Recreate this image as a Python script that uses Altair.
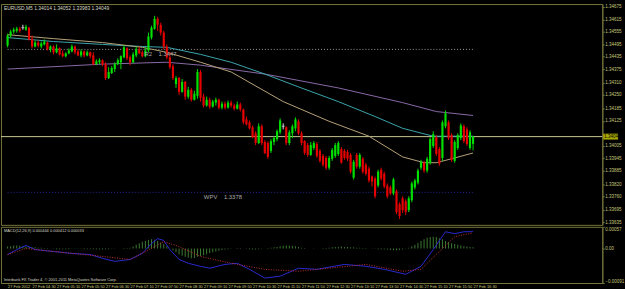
import altair as alt
import pandas as pd

# ---------------- data ----------------
opens = [1.34489, 1.34537, 1.34556, 1.34560, 1.34570, 1.34575, 1.34565, 1.34575, 1.34522, 1.34484,
         1.34503, 1.34484, 1.34494, 1.34503, 1.34470, 1.34484, 1.34456, 1.34475, 1.34451, 1.34437,
         1.34451, 1.34460, 1.34484, 1.34460, 1.34441, 1.34460, 1.34441, 1.34456, 1.34441, 1.34399,
         1.34408, 1.34418, 1.34399, 1.34332, 1.34356, 1.34375, 1.34399, 1.34408, 1.34432, 1.34475,
         1.34432, 1.34408, 1.34441, 1.34470, 1.34456, 1.34437, 1.34465, 1.34527, 1.34570, 1.34618,
         1.34589, 1.34551, 1.34484, 1.34432, 1.34389, 1.34303, 1.34332, 1.34265, 1.34313, 1.34242,
         1.34275, 1.34227, 1.34246, 1.34361, 1.34242, 1.34199, 1.34227, 1.34194, 1.34213, 1.34227,
         1.34189, 1.34208, 1.34189, 1.34213, 1.34199, 1.34184, 1.34204, 1.34180, 1.34132, 1.34118,
         1.34094, 1.34065, 1.34018, 1.34099, 1.34023, 1.34018, 1.33980, 1.34023, 1.34037, 1.34070,
         1.34099, 1.34094, 1.34018, 1.34065, 1.34089, 1.34123, 1.34065, 1.34027, 1.34008, 1.33961,
         1.33994, 1.34013, 1.33980, 1.33956, 1.33946, 1.33899, 1.33942, 1.33956, 1.33965, 1.33989,
         1.33980, 1.33975, 1.33961, 1.33851, 1.33961, 1.33904, 1.33942, 1.33913, 1.33894, 1.33856,
         1.33846, 1.33813, 1.33889, 1.33870, 1.33813, 1.33804, 1.33775, 1.33785, 1.33723, 1.33751,
         1.33737, 1.33694, 1.33742, 1.33804, 1.33827, 1.33899, 1.33923, 1.33885, 1.33923, 1.34004,
         1.34046, 1.33989, 1.33946, 1.34099, 1.34118, 1.34056, 1.33932, 1.33994, 1.34042, 1.34099,
         1.34084, 1.33994, 1.34014]
highs = [1.34546, 1.34565, 1.34575, 1.34579, 1.34579, 1.34589, 1.34589, 1.34579, 1.34537, 1.34513,
         1.34513, 1.34508, 1.34518, 1.34508, 1.34489, 1.34489, 1.34494, 1.34480, 1.34465, 1.34456,
         1.34475, 1.34494, 1.34489, 1.34470, 1.34470, 1.34465, 1.34465, 1.34460, 1.34456, 1.34422,
         1.34427, 1.34422, 1.34408, 1.34384, 1.34389, 1.34408, 1.34427, 1.34441, 1.34489, 1.34480,
         1.34441, 1.34456, 1.34484, 1.34484, 1.34465, 1.34480, 1.34551, 1.34584, 1.34632, 1.34627,
         1.34599, 1.34560, 1.34494, 1.34456, 1.34399, 1.34341, 1.34337, 1.34327, 1.34318, 1.34289,
         1.34284, 1.34270, 1.34375, 1.34370, 1.34256, 1.34242, 1.34237, 1.34227, 1.34237, 1.34232,
         1.34218, 1.34218, 1.34223, 1.34223, 1.34208, 1.34218, 1.34213, 1.34184, 1.34146, 1.34127,
         1.34103, 1.34075, 1.34113, 1.34108, 1.34032, 1.34027, 1.34037, 1.34051, 1.34084, 1.34137,
         1.34113, 1.34099, 1.34080, 1.34108, 1.34142, 1.34132, 1.34075, 1.34032, 1.34018, 1.34023,
         1.34027, 1.34023, 1.33989, 1.33965, 1.33956, 1.33956, 1.33994, 1.34018, 1.34027, 1.33999,
         1.33989, 1.33985, 1.33970, 1.33937, 1.33970, 1.33970, 1.33951, 1.33923, 1.33904, 1.33861,
         1.33856, 1.33889, 1.33899, 1.33880, 1.33823, 1.33813, 1.33851, 1.33794, 1.33732, 1.33761,
         1.33746, 1.33761, 1.33832, 1.33846, 1.33894, 1.33937, 1.33932, 1.33951, 1.34046, 1.34075,
         1.34056, 1.33999, 1.34127, 1.34175, 1.34127, 1.34065, 1.34032, 1.34065, 1.34113, 1.34108,
         1.34094, 1.34080, 1.34052]
lows = [1.34480, 1.34527, 1.34546, 1.34551, 1.34551, 1.34565, 1.34560, 1.34513, 1.34475, 1.34480,
        1.34480, 1.34475, 1.34489, 1.34465, 1.34456, 1.34446, 1.34451, 1.34441, 1.34432, 1.34432,
        1.34446, 1.34456, 1.34446, 1.34437, 1.34432, 1.34432, 1.34437, 1.34427, 1.34394, 1.34394,
        1.34399, 1.34389, 1.34322, 1.34327, 1.34351, 1.34361, 1.34394, 1.34375, 1.34427, 1.34418,
        1.34394, 1.34403, 1.34432, 1.34446, 1.34432, 1.34432, 1.34456, 1.34518, 1.34565, 1.34560,
        1.34537, 1.34470, 1.34422, 1.34375, 1.34322, 1.34284, 1.34251, 1.34261, 1.34227, 1.34232,
        1.34218, 1.34223, 1.34232, 1.34218, 1.34189, 1.34194, 1.34184, 1.34189, 1.34199, 1.34180,
        1.34180, 1.34180, 1.34184, 1.34189, 1.34175, 1.34180, 1.34170, 1.34108, 1.34103, 1.34084,
        1.34042, 1.34008, 1.34013, 1.34008, 1.33965, 1.33942, 1.33970, 1.34008, 1.34027, 1.34061,
        1.34084, 1.34008, 1.34008, 1.34042, 1.34075, 1.34056, 1.34008, 1.33961, 1.33951, 1.33956,
        1.33985, 1.33946, 1.33923, 1.33904, 1.33889, 1.33889, 1.33932, 1.33946, 1.33956, 1.33918,
        1.33937, 1.33932, 1.33870, 1.33842, 1.33894, 1.33894, 1.33870, 1.33861, 1.33827, 1.33808,
        1.33751, 1.33804, 1.33837, 1.33799, 1.33751, 1.33766, 1.33766, 1.33675, 1.33651, 1.33680,
        1.33670, 1.33685, 1.33732, 1.33794, 1.33818, 1.33889, 1.33875, 1.33875, 1.33913, 1.33994,
        1.33956, 1.33908, 1.33932, 1.34089, 1.34032, 1.33927, 1.33923, 1.33985, 1.34032, 1.34018,
        1.34004, 1.33985, 1.33983]
closes = [1.34537, 1.34556, 1.34565, 1.34570, 1.34560, 1.34575, 1.34579, 1.34518, 1.34484, 1.34503,
          1.34489, 1.34499, 1.34508, 1.34470, 1.34484, 1.34456, 1.34475, 1.34446, 1.34437, 1.34451,
          1.34465, 1.34484, 1.34456, 1.34441, 1.34460, 1.34441, 1.34456, 1.34437, 1.34399, 1.34413,
          1.34418, 1.34399, 1.34332, 1.34361, 1.34380, 1.34399, 1.34418, 1.34437, 1.34480, 1.34427,
          1.34408, 1.34446, 1.34470, 1.34451, 1.34437, 1.34465, 1.34532, 1.34575, 1.34618, 1.34589,
          1.34551, 1.34484, 1.34432, 1.34384, 1.34332, 1.34332, 1.34265, 1.34313, 1.34242, 1.34275,
          1.34227, 1.34256, 1.34361, 1.34237, 1.34199, 1.34227, 1.34194, 1.34218, 1.34227, 1.34189,
          1.34208, 1.34189, 1.34213, 1.34199, 1.34184, 1.34204, 1.34180, 1.34118, 1.34108, 1.34089,
          1.34046, 1.34018, 1.34099, 1.34018, 1.33970, 1.33951, 1.34027, 1.34042, 1.34075, 1.34127,
          1.34099, 1.34018, 1.34070, 1.34099, 1.34132, 1.34065, 1.34018, 1.33970, 1.33961, 1.34008,
          1.34018, 1.33956, 1.33932, 1.33913, 1.33899, 1.33946, 1.33985, 1.34008, 1.34018, 1.33923,
          1.33946, 1.33942, 1.33880, 1.33927, 1.33904, 1.33961, 1.33880, 1.33870, 1.33837, 1.33832,
          1.33761, 1.33880, 1.33846, 1.33808, 1.33761, 1.33775, 1.33842, 1.33685, 1.33666, 1.33694,
          1.33685, 1.33751, 1.33823, 1.33837, 1.33885, 1.33927, 1.33885, 1.33942, 1.34037, 1.34061,
          1.33965, 1.33918, 1.34118, 1.34161, 1.34042, 1.33937, 1.34023, 1.34056, 1.34103, 1.34027,
          1.34013, 1.34070, 1.34049]

time_labels = ["27 Feb 2012", "27 Feb 04:30", "27 Feb 05:10", "27 Feb 05:50", "27 Feb 06:30",
               "27 Feb 07:10", "27 Feb 07:50", "27 Feb 08:30", "27 Feb 09:10", "27 Feb 09:50",
               "27 Feb 10:30", "27 Feb 11:10", "27 Feb 11:50", "27 Feb 12:30", "27 Feb 13:10",
               "27 Feb 13:50", "27 Feb 14:30", "27 Feb 15:10", "27 Feb 15:50", "27 Feb 16:30"]
price_ticks = [1.34675, 1.34615, 1.34555, 1.34495, 1.34435, 1.34375, 1.34310, 1.34250, 1.34185,
               1.34125, 1.34005, 1.33945, 1.33885, 1.33820, 1.33760, 1.33695, 1.33635]

ma_teal_i = [0, 15, 31, 44, 52, 63, 73, 84, 95, 108, 120, 129, 139, 152]
ma_teal_v = [1.34527, 1.34508, 1.34494, 1.34484, 1.34480, 1.34446, 1.34408, 1.34351, 1.34289,
             1.34218, 1.34146, 1.34089, 1.34051, 1.34051]
ma_tan_i = [0, 15, 31, 44, 52, 63, 73, 90, 105, 118, 129, 136, 140, 145, 152]
ma_tan_v = [1.34541, 1.34522, 1.34503, 1.34480, 1.34456, 1.34408, 1.34361, 1.34218, 1.34123,
            1.34051, 1.33951, 1.33923, 1.33923, 1.33942, 1.33970]
ma_purple_i = [0, 31, 52, 63, 84, 108, 129, 140, 152]
ma_purple_v = [1.34375, 1.34399, 1.34408, 1.34394, 1.34351, 1.34284, 1.34213, 1.34170, 1.34151]

r2_level = 1.3447
wpv_level = 1.3378
bid = 1.34049

macd_i = [0, 3, 6, 9, 15, 21, 27, 31, 35, 40, 44, 47, 49, 51, 53, 56, 59, 63, 66, 71, 75, 79, 84,
          89, 95, 101, 110, 117, 123, 130, 135, 139, 143, 146, 149, 152]
macd_v = [-0.00016, -0.00003, 0.00008, -0.00003, -0.00008, -0.00013, -0.00016, -0.00026, -0.00034,
          -0.00029, -0.00013, 0.00013, 0.00026, 0.00021, -0.00003, -0.00029, -0.00039, -0.00047,
          -0.00052, -0.00042, -0.00039, -0.00055, -0.00078, -0.00073, -0.00052, -0.00055, -0.00042,
          -0.00047, -0.00055, -0.00068, -0.00047, -0.00003, 0.00044, 0.00039, 0.00044, 0.000444]
sig_i = [0, 6, 15, 31, 40, 45, 51, 56, 63, 73, 84, 95, 117, 129, 135, 142, 146, 152]
sig_v = [-0.00016, 0.0, -0.00008, -0.00021, -0.00029, -0.00008, 0.00018, 0.00005, -0.00021,
         -0.00039, -0.00055, -0.0006, -0.00042, -0.0006, -0.00055, 0.0, 0.00031, 0.000412]
hist_v = [0.00005, 0.00006, 0.00008, 0.00008, 0.00007, 0.00006, 0.00005, 0.00004, 0.00003, 0.00003,
          0.00002, 0.00002, 0.00001, 0.00001, 0.0, -0.00001, -0.00002, -0.00002, -0.00002, -0.00002,
          -0.00002, -0.00001, -0.00001, -0.00001, -0.00001, -0.00002, -0.00002, -0.00002, -0.00002, -0.00003,
          -0.00003, -0.00003, -0.00002, -0.00002, -0.00001, -0.00001, 0.0, 0.0, 0.00001, 0.00001,
          0.00002, 0.00005, 0.0001, 0.00014, 0.00018, 0.0002, 0.00022, 0.00024, 0.00023, 0.0002,
          0.00016, 0.00011, 0.00006, 0.0, -0.00005, -0.0001, -0.00015, -0.00019, -0.00022, -0.00024,
          -0.00026, -0.00025, -0.00022, -0.0002, -0.00018, -0.00015, -0.00012, -0.0001, -0.00008, -0.00006,
          -0.00004, -0.00003, -0.00002, -0.00001, 0.0, 0.00001, 0.00001, 0.0, -0.00001, -0.00002,
          -0.00003, -0.00003, -0.00002, -0.00001, 0.0, 0.00001, 0.00002, 0.00003, 0.00004, 0.00006,
          0.00007, 0.00008, 0.00008, 0.00007, 0.00006, 0.00004, 0.00002, 0.00001, 0.0, 0.0,
          -0.00001, 0.0, 0.0, 0.00001, 0.00001, 0.00002, 0.00003, 0.00004, 0.00004, 0.00005,
          0.00004, 0.00004, 0.00003, 0.00003, 0.00002, 0.00002, 0.00001, 0.00001, 0.0, -0.00001,
          -0.00001, -0.00002, -0.00002, -0.00002, -0.00003, -0.00004, -0.00005, -0.00005, -0.00004, -0.00003,
          -0.00001, 0.00002, 0.00006, 0.0001, 0.00015, 0.0002, 0.00024, 0.00028, 0.0003, 0.00031,
          0.0003, 0.00027, 0.00024, 0.0002, 0.00017, 0.00014, 0.00012, 0.0001, 0.00008, 0.00006,
          0.00005, 0.00004, 0.000033]
macd_range = [-0.00091, 0.00057]

title_text = "EURUSD,M5  1.34014 1.34052 1.33983 1.34049"
macd_text = "MACD(12,26,9) 0.000444 0.000412 0.000033"
copyright_text = "Interbank FX Trader 4, \u00a9 2001-2011 MetaQuotes Software Corp."

# ---------------- frames ----------------
n = len(closes)
idx = list(range(n))
candles = pd.DataFrame({"i": idx, "open": opens, "high": highs, "low": lows, "close": closes})
candles["dir"] = ["up" if c > o else ("down" if c < o else "flat") for o, c in zip(opens, closes)]

FRAME = "#74743a"
LABEL = "#c8c87a"
FONT = "Liberation Sans"

xs = alt.Scale(domain=[-0.54, 192.6], nice=False, zero=False)
ys = alt.Scale(domain=[1.33623, 1.34689], nice=False, zero=False)
ms = alt.Scale(domain=macd_range, nice=False, zero=False)

price_axis = alt.Axis(orient="right", values=price_ticks, labelExpr="format(datum.value, '.5f')",
                      labelFontSize=4.6, labelColor=LABEL, labelFont=FONT, tickColor=FRAME, tickSize=2,
                      domainColor=FRAME, grid=False, title=None, labelPadding=0.5, labelOverlap=False)
time_axis = alt.Axis(values=[8 * k for k in range(len(time_labels))],
                     labelExpr="[" + ",".join(f"'{t}'" for t in time_labels) + "][round(datum.value/8)]",
                     labelAlign="left", labelFontSize=4, labelFont=FONT, labelColor=LABEL,
                     tickColor=FRAME, tickSize=1, domainColor=FRAME, grid=False, title=None,
                     labelPadding=0.5, labelOverlap=False, labelFlush=False)
macd_axis = alt.Axis(orient="right", values=[macd_range[1], 0.0, macd_range[0]],
                     labelExpr="datum.value == 0 ? '0.00' : format(datum.value, '.5f')",
                     labelFontSize=4.6, labelColor=LABEL, labelFont=FONT, tickColor=FRAME, tickSize=2,
                     domainColor=FRAME, grid=False, title=None, labelPadding=0.5, labelFlush=True,
                     labelOverlap=False)


def PX(field="i"):
    return alt.X(f"{field}:Q", scale=xs, axis=None)


def PY(field):
    return alt.Y(f"{field}:Q", scale=ys, axis=price_axis)


def TX(field="i"):
    return alt.X(f"{field}:Q", scale=xs, axis=time_axis)


def MY(field):
    return alt.Y(f"{field}:Q", scale=ms, axis=macd_axis)


color = alt.Color("dir:N", legend=None,
                  scale=alt.Scale(domain=["up", "down", "flat"], range=["#00e000", "#e60000", "#e0e0e0"]))

wicks = alt.Chart(candles).mark_rule(strokeWidth=1).encode(
    x=PX(), y=PY("low"), y2="high:Q", color=color)
bodies = alt.Chart(candles).mark_bar(size=2.2).encode(
    x=PX(), y=PY("open"), y2="close:Q", color=color)
dojis = alt.Chart(candles[candles["dir"] == "flat"]).mark_tick(
    thickness=1, size=3, orient="horizontal", color="#e0e0e0").encode(x=PX(), y=PY("close"))


def ma_line(ii, vv, col):
    return alt.Chart(pd.DataFrame({"i": ii, "v": vv})).mark_line(strokeWidth=1, color=col).encode(
        x=PX(), y=PY("v"))


ma_teal = ma_line(ma_teal_i, ma_teal_v, "#3aa6ae")
ma_tan = ma_line(ma_tan_i, ma_tan_v, "#b8a47a")
ma_purple = ma_line(ma_purple_i, ma_purple_v, "#8a6aa8")

levels = pd.DataFrame({"i0": [0, 0], "i1": [152, 152], "p": [r2_level, wpv_level]})
r2_rule = alt.Chart(levels.iloc[[0]]).mark_rule(color="#9a9a9a", strokeDash=[1, 2], strokeWidth=1).encode(
    x=PX("i0"), x2="i1:Q", y=PY("p"))
wpv_rule = alt.Chart(levels.iloc[[1]]).mark_rule(color="#2828a0", strokeDash=[1, 2], strokeWidth=1).encode(
    x=PX("i0"), x2="i1:Q", y=PY("p"))

NB = "\u00a0"
lvl_text = pd.DataFrame({"i": [44.7, 64.1], "p": [r2_level, wpv_level],
                         "t": [f"R2{NB * 4}{r2_level:.4f}", f"WPV{NB * 4}{wpv_level:.4f}"]})
lvl_labels = alt.Chart(lvl_text).mark_text(align="left", baseline="top", dy=1.5, fontSize=6,
                                           font=FONT, color="#a8a8a8").encode(
    x=PX(), y=PY("p"), text="t:N")

bid_df = pd.DataFrame({"p": [bid], "t": [f"{bid:.5f}"]})
bid_rule = alt.Chart(bid_df).mark_rule(color="#c8c896", strokeWidth=1).encode(y=PY("p"))
bid_box = alt.Chart(bid_df).mark_tick(color="#f0f000", thickness=6, size=15, orient="horizontal").encode(
    x=alt.value(618.5), y=PY("p"))
bid_txt = alt.Chart(bid_df).mark_text(align="left", fontSize=4.6, font=FONT, color="#000000").encode(
    x=alt.value(612), y=PY("p"), text="t:N")

title = alt.Chart(pd.DataFrame({"t": [title_text]})).mark_text(
    align="left", baseline="top", fontSize=5, font=FONT, color="#d8d8c8").encode(
    x=alt.value(3), y=alt.value(2), text="t:N")

main = alt.layer(r2_rule, wpv_rule, bid_rule, ma_purple, ma_teal, ma_tan, wicks, bodies, dojis,
                 lvl_labels, bid_box, bid_txt, title).properties(width=610, height=224)

# ---------------- MACD panel ----------------
hist_df = pd.DataFrame({"i": idx, "h": hist_v})
hist = alt.Chart(hist_df).mark_bar(size=1, color="#3c7a32").encode(
    x=TX(), y=MY("h"), y2=alt.datum(0))
macd_line = alt.Chart(pd.DataFrame({"i": macd_i, "v": macd_v})).mark_line(
    color="#2a2ad0", strokeWidth=1).encode(x=TX(), y=MY("v"))
sig_line = alt.Chart(pd.DataFrame({"i": sig_i, "v": sig_v})).mark_line(
    color="#c03030", strokeWidth=1, strokeDash=[1, 1.5]).encode(x=TX(), y=MY("v"))
macd_title = alt.Chart(pd.DataFrame({"t": [macd_text]})).mark_text(
    align="left", baseline="top", fontSize=4, font=FONT, color="#d8d8c8").encode(
    x=alt.value(3), y=alt.value(2), text="t:N")
copy_txt = alt.Chart(pd.DataFrame({"t": [copyright_text]})).mark_text(
    align="left", baseline="bottom", fontSize=4, font=FONT, color="#d8d8c8").encode(
    x=alt.value(3), y=alt.value(56), text="t:N")

macd = alt.layer(hist, macd_line, sig_line, macd_title, copy_txt).properties(width=610, height=57)

chart = alt.vconcat(main, macd, spacing=0).properties(
    padding={"left": 0, "top": 1, "right": 0, "bottom": 0}, background="#000000"
).configure_view(stroke=FRAME, strokeWidth=1).configure_concat(spacing=0)

chart.save("out.html", embed_options={"renderer": "svg", "actions": False})
